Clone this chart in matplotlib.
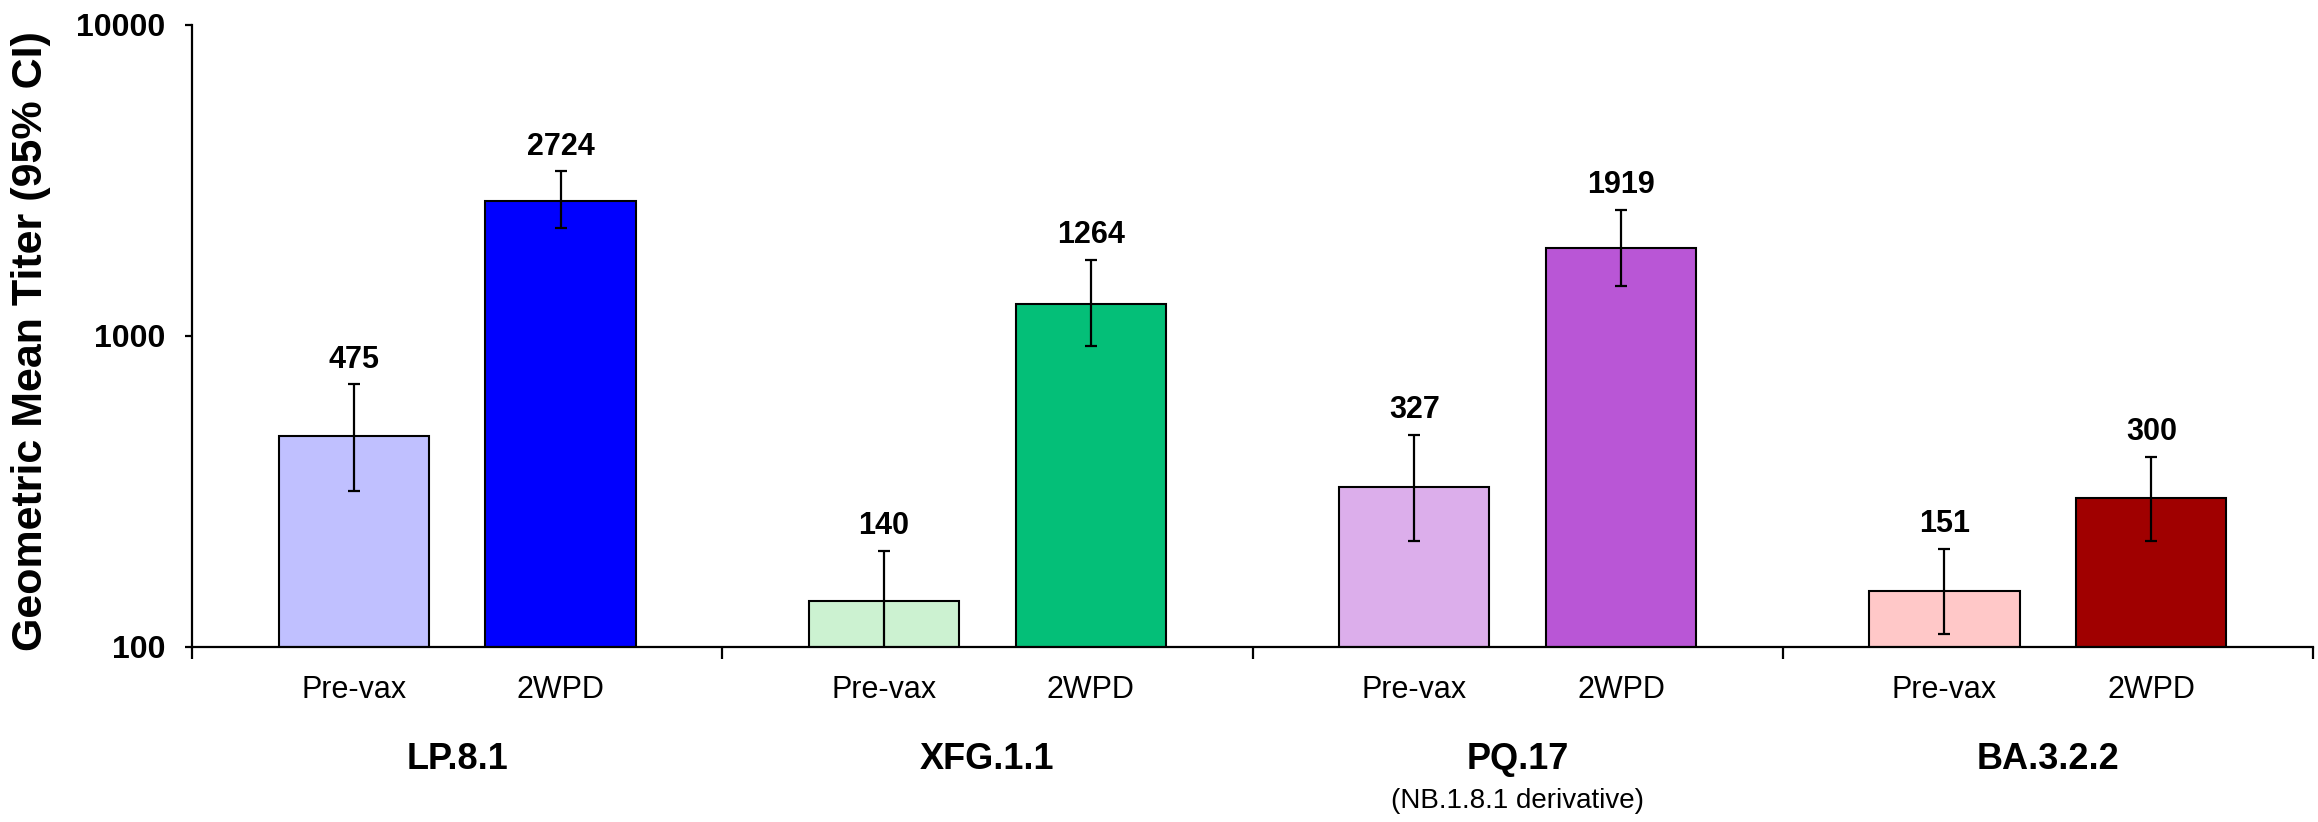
import matplotlib
matplotlib.use("Agg")
import matplotlib.pyplot as plt
import numpy as np

plt.rcParams['font.family'] = ['Liberation Sans', 'DejaVu Sans']

# ---- data ----
groups = ["LP.8.1", "XFG.1.1", "PQ.17", "BA.3.2.2"]
group_notes = ["", "", "(NB.1.8.1 derivative)", ""]
timepoints = ["Pre-vax", "2WPD"]

prevax_gmt = [475, 140, 327, 151]
prevax_lo = [317, 97, 219, 110]
prevax_hi = [697, 203, 480, 206]

wpd_gmt = [2724, 1264, 1919, 300]
wpd_lo = [2229, 924, 1444, 219]
wpd_hi = [3378, 1752, 2541, 408]

prevax_colors = ["#C0C0FF", "#CCF2D1", "#DCAEEB", "#FFC8C8"]
wpd_colors = ["#0000FF", "#04BF78", "#B956D6", "#A00000"]

# ---- layout ----
fig = plt.figure(figsize=(23.18, 8.22), dpi=100)
ax = fig.add_axes([192 / 2318, 1 - 646.5 / 822, (2313 - 192) / 2318, (646.5 - 25) / 822])

n = len(groups)
centers = np.arange(n) + 0.5
offset = 0.195
width = 0.283
x_pre = centers - offset
x_wpd = centers + offset

ax.set_yscale("log")
ax.set_ylim(100, 10000)
ax.set_xlim(0, n)

ax.bar(x_pre, prevax_gmt, width=width, color=prevax_colors, edgecolor="black", linewidth=1.5, zorder=2)
ax.bar(x_wpd, wpd_gmt, width=width, color=wpd_colors, edgecolor="black", linewidth=1.5, zorder=2)

pre_err = [np.array(prevax_gmt) - np.array(prevax_lo), np.array(prevax_hi) - np.array(prevax_gmt)]
wpd_err = [np.array(wpd_gmt) - np.array(wpd_lo), np.array(wpd_hi) - np.array(wpd_gmt)]
ax.errorbar(x_pre, prevax_gmt, yerr=pre_err, fmt="none", ecolor="black", elinewidth=1.6, capsize=4.5, capthick=1.6, zorder=3)
ax.errorbar(x_wpd, wpd_gmt, yerr=wpd_err, fmt="none", ecolor="black", elinewidth=1.6, capsize=4.5, capthick=1.6, zorder=3)

# value labels above the CI whiskers
for xs, vals, his in [(x_pre, prevax_gmt, prevax_hi), (x_wpd, wpd_gmt, wpd_hi)]:
    for x, v, h in zip(xs, vals, his):
        ax.annotate(f"{v}", xy=(x, h), xytext=(0, 12), textcoords="offset points",
                    ha="center", va="baseline", fontsize=22, fontweight="bold")

# spines and ticks
for s in ["top", "right"]:
    ax.spines[s].set_visible(False)
for s in ["left", "bottom"]:
    ax.spines[s].set_linewidth(1.6)

ax.set_yticks([100, 1000, 10000])
ax.set_yticklabels(["100", "1000", "10000"], fontsize=23, fontweight="bold")
ax.yaxis.set_minor_locator(matplotlib.ticker.NullLocator())
ax.tick_params(axis="y", which="major", direction="out", length=5, width=1.6, pad=14)

ax.set_xticks(np.arange(n + 1))
ax.set_xticklabels([])
ax.tick_params(axis="x", which="major", direction="out", length=8.5, width=1.6)

# category labels under the axis
for i in range(n):
    for x, lab in [(x_pre[i], timepoints[0]), (x_wpd[i], timepoints[1])]:
        ax.annotate(lab, xy=(x, 0), xycoords=("data", "axes fraction"), xytext=(0, -37),
                    textcoords="offset points", ha="center", va="baseline", fontsize=22)
    ax.annotate(groups[i], xy=(centers[i], 0), xycoords=("data", "axes fraction"), xytext=(0, -88),
                textcoords="offset points", ha="center", va="baseline", fontsize=26, fontweight="bold")
    if group_notes[i]:
        ax.annotate(group_notes[i], xy=(centers[i], 0), xycoords=("data", "axes fraction"), xytext=(0, -116.5),
                    textcoords="offset points", ha="center", va="baseline", fontsize=20)

fig.text(31 / 2318, 1 - 341 / 822, "Geometric Mean Titer (95% CI)", rotation=90,
         ha="center", va="center", fontsize=31, fontweight="bold")

fig.savefig("out.png", dpi=100)
